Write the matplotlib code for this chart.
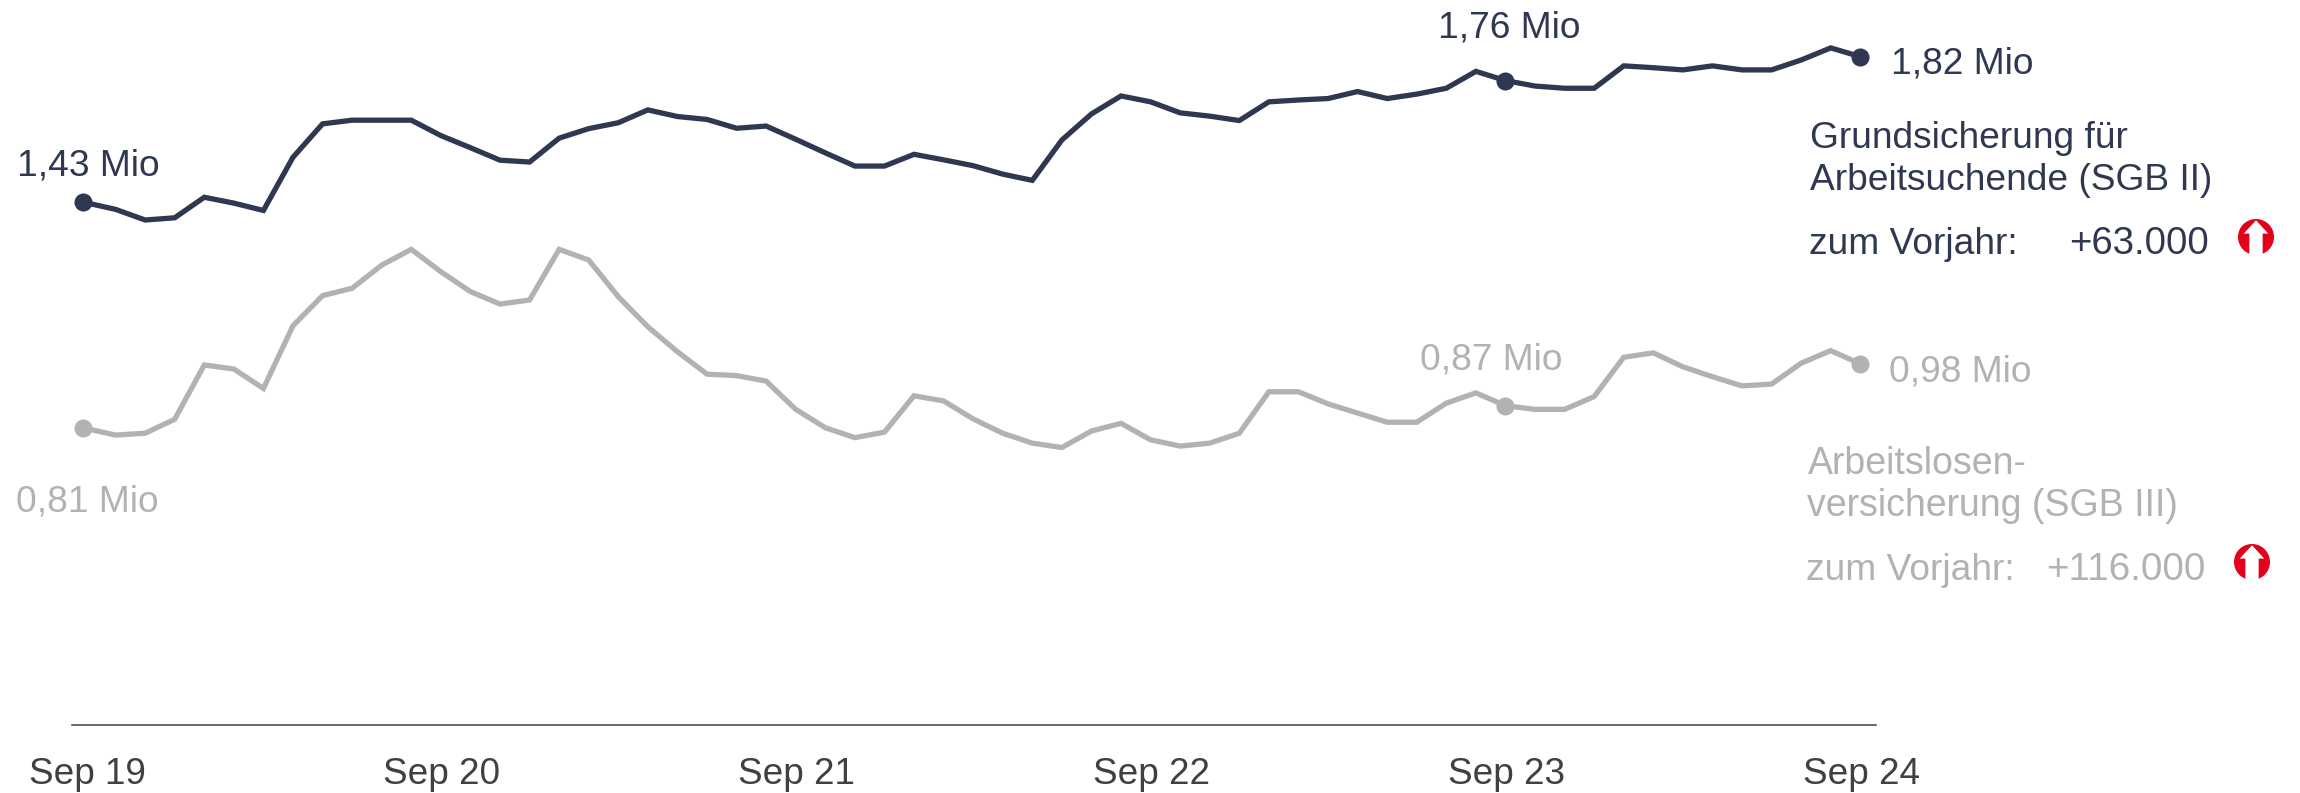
import matplotlib
matplotlib.use('Agg')
import matplotlib.pyplot as plt
from matplotlib.patches import Circle, Polygon
from matplotlib.transforms import ScaledTranslation

plt.rcParams['font.family'] = ['Liberation Sans', 'DejaVu Sans']

# --- Data (millions, one value per month, Sep 19 to Sep 24) ---
sgb2 = [1.425, 1.405, 1.376, 1.382, 1.438, 1.422, 1.402, 1.547, 1.638, 1.648, 1.648, 1.648,
        1.606, 1.573, 1.539, 1.534, 1.599, 1.625, 1.641, 1.676, 1.658, 1.650, 1.626, 1.632,
        1.596, 1.559, 1.523, 1.523, 1.555, 1.540, 1.524, 1.501, 1.484, 1.594, 1.665, 1.714,
        1.698, 1.668, 1.659, 1.647, 1.698, 1.703, 1.707, 1.726, 1.707, 1.719, 1.735, 1.781,
        1.756, 1.741, 1.735, 1.735, 1.796, 1.791, 1.785, 1.796, 1.785, 1.785, 1.812, 1.845,
        1.821]
sgb3 = [0.810, 0.790, 0.795, 0.833, 0.981, 0.970, 0.917, 1.088, 1.170, 1.190, 1.253, 1.296,
        1.235, 1.181, 1.147, 1.158, 1.296, 1.267, 1.167, 1.085, 1.017, 0.956, 0.952, 0.937,
        0.860, 0.810, 0.783, 0.798, 0.897, 0.883, 0.834, 0.795, 0.768, 0.756, 0.801, 0.822,
        0.777, 0.760, 0.768, 0.795, 0.908, 0.908, 0.875, 0.850, 0.825, 0.825, 0.877, 0.905,
        0.870, 0.860, 0.860, 0.895, 1.002, 1.014, 0.976, 0.949, 0.924, 0.929, 0.986, 1.020,
        0.984]
months = list(range(len(sgb2)))
marked = [0, 48, 60]
year_ticks = [0, 12, 24, 36, 48, 60]
year_labels = ['Sep 19', 'Sep 20', 'Sep 21', 'Sep 22', 'Sep 23', 'Sep 24']

DARK = '#2E3850'
GREY = '#B2B2B2'
RED = '#E2001A'
W, H = 2300, 793

fig = plt.figure(figsize=(W / 100, H / 100), dpi=100, facecolor='white')

# --- Chart axes, baseline at y=725 px ---
ax = fig.add_axes([71.5 / W, (H - 725) / H, (1876 - 71.5) / W, 725 / H])
ax.set_xlim(-0.49, 60.53)
ax.set_ylim(0, 725 / 367)
for name in ['top', 'left', 'right']:
    ax.spines[name].set_visible(False)
ax.spines['bottom'].set_color('#404040')
ax.spines['bottom'].set_linewidth(1.1)
ax.set_yticks([])
ax.set_xticks(year_ticks)
ax.set_xticklabels(year_labels, fontsize=26.6, color='#404040')
ax.tick_params(axis='x', length=0, pad=23)
shift = ScaledTranslation(1 / 100, 0, fig.dpi_scale_trans)
for lbl in ax.get_xticklabels():
    lbl.set_transform(lbl.get_transform() + shift)

# the first point sits a little left of its month in the original
line_x = [-0.11] + months[1:]
for values, color in [(sgb3, GREY), (sgb2, DARK)]:
    ax.plot(line_x, values, color=color, linewidth=3.8, solid_joinstyle='miter', clip_on=False)
    ax.plot([line_x[i] for i in marked], [values[i] for i in marked], linestyle='none', marker='o',
            markersize=13, markeredgewidth=0, color=color, clip_on=False)

# --- Overlay in pixel coordinates for the notes ---
ov = fig.add_axes([0, 0, 1, 1], facecolor='none')
ov.set_xlim(0, W)
ov.set_ylim(H, 0)
ov.axis('off')


def note(x, y, s, color, ha='left', size=26.7):
    ov.text(x, y, s, color=color, fontsize=size, ha=ha, va='baseline')


def up_icon(cx, cy, r=18):
    ov.add_patch(Circle((cx, cy), r, facecolor=RED, edgecolor='none'))
    arrow = [(0, -0.93), (0.68, -0.19), (0.37, -0.19), (0.37, 1.0),
             (-0.37, 1.0), (-0.37, -0.19), (-0.68, -0.19)]
    ov.add_patch(Polygon([(cx + a * r, cy + b * r) for a, b in arrow],
                         facecolor='white', edgecolor='none'))


note(17, 175, '1,43 Mio', DARK)
note(16, 511, '0,81 Mio', GREY)
note(1438, 37, '1,76 Mio', DARK)
note(1420, 369, '0,87 Mio', GREY)
note(1891, 73, '1,82 Mio', DARK)
note(1889, 381, '0,98 Mio', GREY)

note(1810, 148, 'Grundsicherung für', DARK)
note(1810, 190, 'Arbeitsuchende (SGB II)', DARK)
note(1809, 254, 'zum Vorjahr:', DARK)
note(2209, 254, '+63.000', DARK, ha='right', size=27.6)
up_icon(2256, 237)

note(1808, 474, 'Arbeitslosen-', GREY, size=27)
note(1807, 516, 'versicherung (SGB III)', GREY, size=27)
note(1806, 580, 'zum Vorjahr:', GREY)
note(2206, 580, '+116.000', GREY, ha='right', size=27.8)
up_icon(2252, 562)

fig.savefig('out.png', dpi=100, facecolor='white')
